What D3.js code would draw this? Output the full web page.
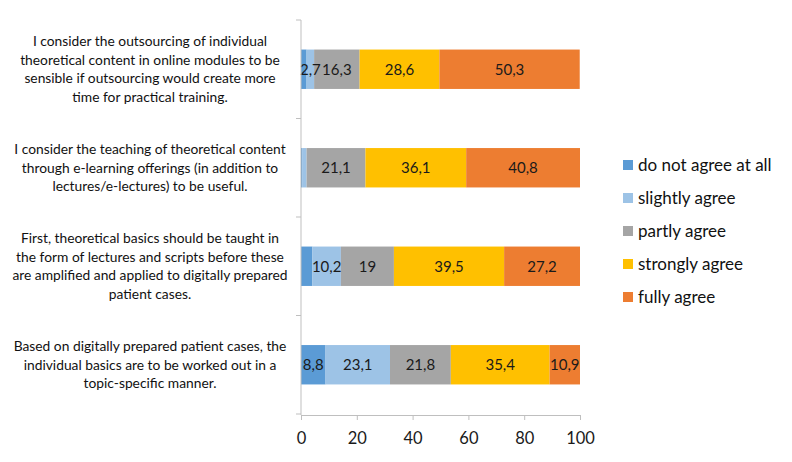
<!DOCTYPE html>
<html>
<head>
<meta charset="utf-8">
<script src="https://cdn.jsdelivr.net/npm/d3@7"></script>
<style>
  body { margin: 0; background: #fff; }
  svg { display: block; font-family: Lato, "Open Sans", sans-serif; }
</style>
</head>
<body>
<svg id="chart" width="792" height="462"></svg>
<script>
// ---- data ----
const categories = [
  ["I consider the outsourcing of individual", "theoretical content in online modules to be", "sensible if outsourcing would create more", "time for practical training."],
  ["I consider the teaching of theoretical content", "through e-learning offerings (in addition to", "lectures/e-lectures) to be useful."],
  ["First, theoretical basics should be taught in", "the form of lectures and scripts before these", "are amplified and applied to digitally prepared", "patient cases."],
  ["Based on digitally prepared patient cases, the", "individual basics are to be worked out in a", "topic-specific manner."]
];
const seriesNames = ["do not agree at all", "slightly agree", "partly agree", "strongly agree", "fully agree"];
const doNotAgree   = [2.0, 0.4, 4.1, 8.8];
const slightly     = [2.7, 1.6, 10.2, 23.1];
const partly       = [16.3, 21.1, 19, 21.8];
const strongly     = [28.6, 36.1, 39.5, 35.4];
const fully        = [50.3, 40.8, 27.2, 10.9];
// labels shown on the original chart (null = no label)
const labelsDoNotAgree = [null, null, null, "8,8"];
const labelsSlightly   = ["2,7", null, "10,2", "23,1"];
const xTicks = [0, 20, 40, 60, 80, 100];
const colors = ["#5B9BD5", "#9DC3E6", "#A5A5A5", "#FFC000", "#ED7D31"];

const seriesValues = [doNotAgree, slightly, partly, strongly, fully];
const fmt = v => String(v).replace(".", ",");
const seriesLabels = [
  labelsDoNotAgree,
  labelsSlightly,
  partly.map(fmt),
  strongly.map(fmt),
  fully.map(fmt)
];

// ---- layout ----
const svg = d3.select("#chart");
const margin = { left: 301, top: 20 };
const x = d3.scaleLinear().domain([0, 100]).range([margin.left, 580]);
const y = d3.scaleBand().domain(d3.range(categories.length))
  .range([margin.top, 414]).paddingInner(0.6).paddingOuter(0.3);

const rows = categories.map((c, i) => {
  let acc = 0;
  return seriesValues.map((s, k) => {
    const seg = { row: i, k, x0: acc, x1: acc + s[i], label: seriesLabels[k][i] };
    acc += s[i];
    return seg;
  });
});

const g = svg.append("g");
g.selectAll("g.row").data(rows).join("g").attr("class", "row")
  .selectAll("rect").data(d => d).join("rect")
  .attr("x", d => x(d.x0))
  .attr("width", d => x(d.x1) - x(d.x0))
  .attr("y", d => y(d.row))
  .attr("height", y.bandwidth())
  .attr("fill", d => colors[d.k]);

g.selectAll("g.row").selectAll("text").data(d => d.filter(s => s.label)).join("text")
  .attr("x", d => (x(d.x0) + x(d.x1)) / 2)
  .attr("y", d => y(d.row) + y.bandwidth() / 2)
  .attr("dy", "0.35em")
  .attr("text-anchor", "middle")
  .attr("font-size", 15)
  .attr("fill", "#1a1a1a")
  .text(d => d.label);

// x axis
const axisColor = "#BFBFBF";
const xAxis = svg.append("g").attr("transform", `translate(0,415)`)
  .call(d3.axisBottom(x).tickValues(xTicks).tickSize(5).tickSizeOuter(0).tickPadding(12));
xAxis.select(".domain").attr("stroke", axisColor);
xAxis.selectAll(".tick line").attr("stroke", axisColor);
xAxis.selectAll(".tick text").attr("font-size", 16.5).attr("fill", "#1a1a1a").attr("font-family", "Lato, sans-serif");

// y axis line and band ticks
svg.append("line").attr("x1", x(0)).attr("x2", x(0)).attr("y1", margin.top).attr("y2", 415)
  .attr("stroke", axisColor);
const bounds = d3.range(categories.length + 1).map(i => margin.top + i * y.step());
svg.selectAll("line.ytick").data(bounds).join("line").attr("class", "ytick")
  .attr("x1", x(0) - 5).attr("x2", x(0)).attr("y1", d => d).attr("y2", d => d)
  .attr("stroke", axisColor);

// category labels
const lineH = 18.6;
svg.selectAll("text.cat").data(categories).join("text").attr("class", "cat")
  .attr("text-anchor", "middle")
  .attr("font-size", 13.8)
  .attr("fill", "#111")
  .each(function(lines, i) {
    const cy = y(i) + y.bandwidth() / 2;
    const t = d3.select(this);
    lines.forEach((ln, j) => {
      t.append("tspan").attr("x", 150)
        .attr("y", cy + (j - (lines.length - 1) / 2) * lineH)
        .attr("dy", "0.35em").text(ln);
    });
  });

// legend
const legend = svg.append("g").attr("transform", "translate(623,165)");
const li = legend.selectAll("g").data(seriesNames).join("g")
  .attr("transform", (d, i) => `translate(0,${i * 33})`);
li.append("rect").attr("x", 0).attr("y", -5).attr("width", 10).attr("height", 10)
  .attr("fill", (d, i) => colors[i]);
li.append("text").attr("x", 15).attr("dy", "0.35em").attr("font-size", 17)
  .attr("fill", "#111").text(d => d);
</script>
</body>
</html>
